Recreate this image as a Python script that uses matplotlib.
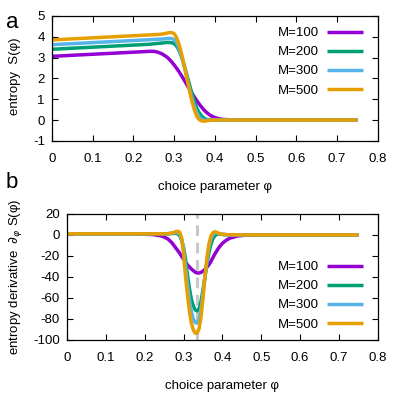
import matplotlib
matplotlib.use("Agg")
import matplotlib.pyplot as plt

plt.rcParams['font.family'] = ['Liberation Sans', 'DejaVu Sans']
plt.rcParams['axes.unicode_minus'] = False
plt.rcParams['mathtext.fontset'] = 'dejavusans'

# choice parameter grid
phi = [0, 0.05, 0.1, 0.15, 0.2, 0.22, 0.24, 0.25, 0.26, 0.27, 0.28,
       0.285, 0.29, 0.295, 0.30, 0.305, 0.31, 0.315, 0.32, 0.325, 0.33,
       0.335, 0.34, 0.345, 0.35, 0.355, 0.36, 0.365, 0.37, 0.375, 0.38,
       0.385, 0.39, 0.40, 0.41, 0.42, 0.44, 0.46, 0.5, 0.6, 0.7, 0.75]

labels = ['M=100', 'M=200', 'M=300', 'M=500']
colors = ['#9400d3', '#009e73', '#56b4e9', '#e69f00']

# entropy S(phi)
S_100 = [3.06, 3.11, 3.16, 3.21, 3.26, 3.28, 3.30, 3.30, 3.26, 3.18, 3.06,
         2.98, 2.88, 2.77, 2.65, 2.52, 2.38, 2.23, 2.07, 1.91, 1.74,
         1.57, 1.41, 1.25, 1.10, 0.95, 0.81, 0.68, 0.56, 0.45, 0.36,
         0.28, 0.21, 0.12, 0.06, 0.03, 0.01, 0, 0, 0, 0, 0]
S_200 = [3.40, 3.45, 3.50, 3.55, 3.60, 3.62, 3.64, 3.66, 3.68, 3.70, 3.72,
         3.73, 3.72, 3.71, 3.67, 3.58, 3.43, 3.21, 2.93, 2.61, 2.26,
         1.90, 1.54, 1.20, 0.88, 0.60, 0.40, 0.25, 0.14, 0.07, 0.03,
         0.01, 0, 0, 0, 0, 0, 0, 0, 0, 0, 0]
S_300 = [3.62, 3.67, 3.72, 3.77, 3.82, 3.84, 3.86, 3.87, 3.88, 3.89, 3.91,
         3.92, 3.92, 3.91, 3.86, 3.75, 3.55, 3.28, 2.94, 2.56, 2.15,
         1.73, 1.32, 0.95, 0.64, 0.39, 0.20, 0.08, 0.02, 0, 0,
         0, 0, 0, 0, 0, 0, 0, 0, 0, 0, 0]
S_500 = [3.85, 3.90, 3.95, 4.00, 4.05, 4.07, 4.09, 4.10, 4.11, 4.13, 4.16,
         4.19, 4.20, 4.20, 4.15, 4.00, 3.76, 3.43, 3.04, 2.60, 2.15,
         1.68, 1.22, 0.80, 0.46, 0.21, 0.05, -0.02, -0.05, -0.05, -0.04,
         -0.02, -0.01, 0, 0, 0, 0, 0, 0, 0, 0, 0]

# entropy derivative dS/dphi
D_100 = [1, 1, 1, 1, 0.6, 0.3, -0.8, -2.0, -4.0, -7.5, -12.5,
         -15, -17.5, -20.5, -23, -26, -28.5, -30.5, -32.5, -34, -35.5,
         -36.3, -36.3, -35.7, -34.5, -32.8, -30.8, -28.5, -25.5, -22, -18.5,
         -15.5, -12.5, -8, -5, -3, -1, -0.3, 0, 0, 0, 0]
D_200 = [1, 1, 1, 1, 1, 1, 1, 1, 1, 1.2, 1.5,
         1.0, -1, -5, -12, -23, -38, -51, -61, -67.5, -71.5,
         -72.5, -70, -63, -52, -40, -28, -17.5, -9.5, -4, -1,
         0.5, 0.8, 0.4, 0.1, 0, 0, 0, 0, 0, 0, 0]
D_300 = [1, 1, 1, 1, 1, 1, 1, 1, 1.2, 1.6, 2.2,
         2.2, 0.5, -4, -14, -30, -47, -62, -73, -80, -83.5,
         -84, -80, -70, -56, -40, -25, -12.5, -4.5, 0, 1.8,
         1.8, 1.2, 0.5, 0.2, 0, 0, 0, 0, 0, 0, 0]
D_500 = [1, 1, 1, 1, 1, 1, 1, 1, 1.2, 1.8, 3.0,
         3.5, 2.5, -3, -18, -40, -57, -73, -84, -90.5, -93.5,
         -93.5, -89, -78, -60, -40, -22, -9, -1.5, 2, 3,
         2.5, 1.5, 0.5, 0.3, 0.1, 0, 0, 0, 0, 0, 0]

phi_c = 1 / 3

fs = 9.5
fig = plt.figure(figsize=(3.99, 3.99), dpi=100)
ax1 = fig.add_axes([0.130, 0.647, 0.817, 0.313])
ax2 = fig.add_axes([0.168, 0.148, 0.779, 0.316])

for S, c, lab in zip([S_100, S_200, S_300, S_500], colors, labels):
    ax1.plot(phi, S, color=c, lw=2.5, label=lab, solid_capstyle='butt')
ax2.axvline(phi_c, color='#c8c8c8', lw=2.2, dashes=(3.5, 2.2), zorder=1)
for D, c, lab in zip([D_100, D_200, D_300, D_500], colors, labels):
    ax2.plot(phi, D, color=c, lw=2.5, label=lab, zorder=2, solid_capstyle='butt')

ax1.set_xlim(0, 0.8)
ax1.set_ylim(-1, 5)
ax1.set_yticks(range(-1, 6))
ax2.set_xlim(0, 0.8)
ax2.set_ylim(-100, 20)
ax2.set_yticks(range(-100, 21, 20))

xt = [0, 0.1, 0.2, 0.3, 0.4, 0.5, 0.6, 0.7, 0.8]
for ax in (ax1, ax2):
    ax.set_xticks(xt)
    ax.set_xticklabels(['0'] + ['%.1f' % v for v in xt[1:]])
    ax.tick_params(direction='in', length=4, width=0.8, top=True, right=True,
                   labelsize=fs)
    ax.tick_params(axis='x', pad=9)
    ax.tick_params(axis='y', pad=5)
    for s in ax.spines.values():
        s.set_linewidth(0.9)
    ax.set_xlabel('choice parameter φ', fontsize=fs, labelpad=11)

leg_kw = dict(bbox_transform=fig.transFigure, frameon=False, markerfirst=False,
              fontsize=fs, handlelength=2.75, handletextpad=0.62,
              labelspacing=0.52, borderpad=0, borderaxespad=0, loc='upper right')
ax1.legend(bbox_to_anchor=(363 / 399, 1 - 27 / 399), **leg_kw)
ax2.legend(bbox_to_anchor=(363 / 399, 1 - 261 / 399), **leg_kw)

fig.text(15 / 399, 1 - 76 / 399, 'entropy  S(φ)', rotation=90, fontsize=fs,
         ha='center', va='center')
fig.text(16 / 399, 1 - 277 / 399, r'entropy derivative  $\partial_\varphi$ S(φ)',
         rotation=90, fontsize=fs, ha='center', va='center')
fig.text(12 / 399, 1 - 23 / 399, 'a', fontsize=16, ha='center', va='center')
fig.text(12 / 399, 1 - 183 / 399, 'b', fontsize=16, ha='center', va='center')

fig.savefig('out.png', dpi=100)
